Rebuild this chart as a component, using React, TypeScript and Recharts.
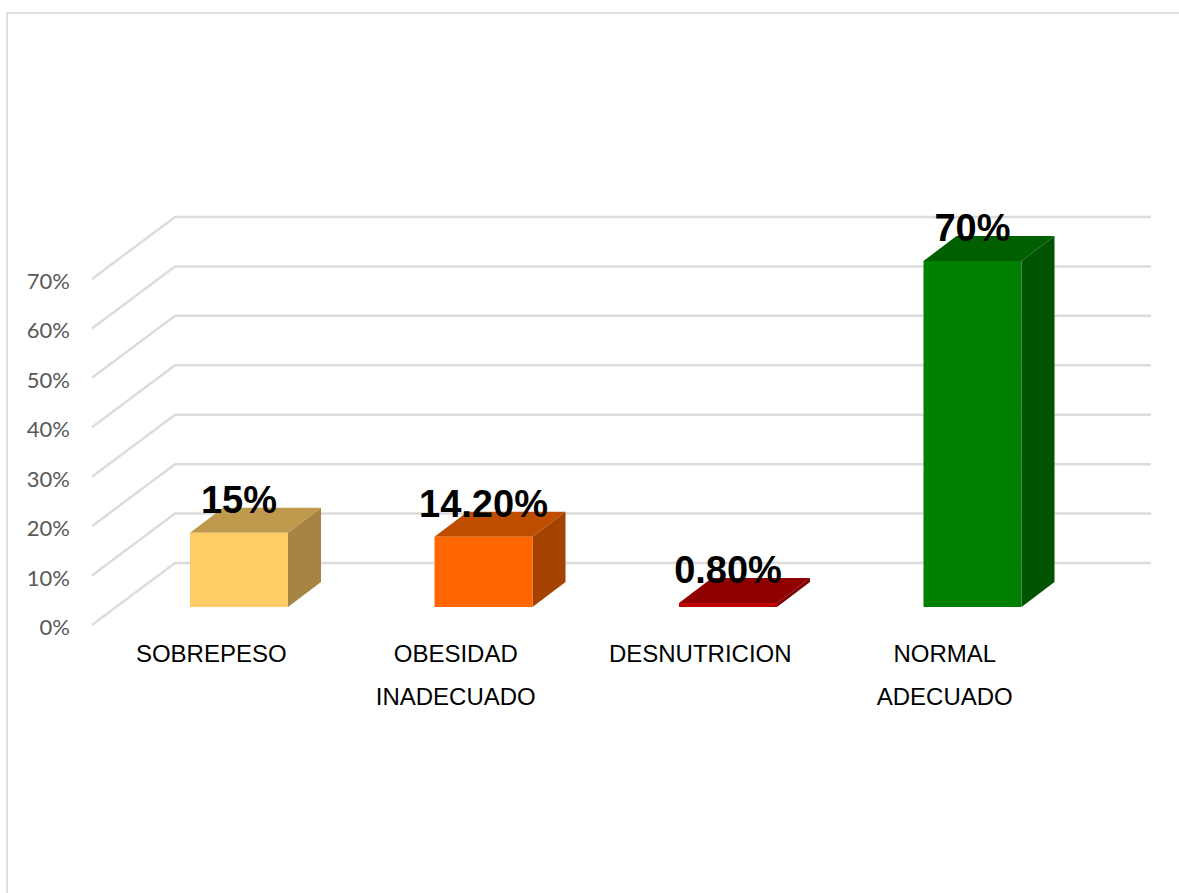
import { BarChart, Bar, XAxis, YAxis, CartesianGrid, LabelList } from 'recharts'

const categories = ['SOBREPESO', 'OBESIDAD', 'DESNUTRICION', 'NORMAL']
const secondLine = ['', 'INADECUADO', '', 'ADECUADO']
const percentValues = [15, 14.2, 0.8, 70]
const valueLabels = ['15%', '14.20%', '0.80%', '70%']
const yTicks = [0, 10, 20, 30, 40, 50, 60, 70]

const FRONT = ['#FFCC66', '#FF6600', '#C00000', '#008000']
const TOP = ['#BF9A4D', '#BF4D00', '#900000', '#006000']
const SIDE = ['#A68544', '#A64200', '#7D0000', '#005300']

const DEPTH_X = 33
const DEPTH_Y = 25

const chartData = categories.map((name, i) => ({ name, value: percentValues[i] }))

function Box3D(props: any) {
  const { x, y, width, height, index } = props
  const r = x + width
  const b = y + height
  return (
    <g>
      <path
        d={`M${x},${y} L${x + DEPTH_X},${y - DEPTH_Y} L${r + DEPTH_X},${y - DEPTH_Y} L${r},${y} Z`}
        fill={TOP[index]}
      />
      <path
        d={`M${r},${y} L${r + DEPTH_X},${y - DEPTH_Y} L${r + DEPTH_X},${b - DEPTH_Y} L${r},${b} Z`}
        fill={SIDE[index]}
      />
      <rect x={x} y={y} width={width} height={height} fill={FRONT[index]} />
    </g>
  )
}

// back wall line plus the diagonal running to the front edge of the floor
function GridLine(props: any) {
  const { x1, x2, y1 } = props
  return (
    <g stroke="#dcdcdc" strokeWidth={2.5} fill="none">
      <path d={`M${x1 - 25},${y1 + 18} L${x1 + 58},${y1 - 44} L${x2 + 56},${y1 - 44}`} />
    </g>
  )
}

function ValueTick(props: any) {
  const { y, payload } = props
  return (
    <text
      x={70}
      y={y + 18 + 10}
      textAnchor="end"
      fontSize={22}
      fontFamily="Lato, 'Open Sans', sans-serif"
      fill="#595959"
    >
      {payload.value}%
    </text>
  )
}

function CategoryTick(props: any) {
  const { x, payload, index } = props
  return (
    <text textAnchor="middle" fontSize={24} fontFamily="'Liberation Sans', Arial, sans-serif" fill="#000">
      <tspan x={x - 28} y={662}>{payload.value}</tspan>
      {secondLine[index] && <tspan x={x - 28} y={705}>{secondLine[index]}</tspan>}
    </text>
  )
}

function ValueLabel(props: any) {
  const { x, y, width, index } = props
  return (
    <text
      x={x + width / 2}
      y={y - 20}
      textAnchor="middle"
      fontSize={38}
      fontWeight="bold"
      fontFamily="'Liberation Sans', Arial, sans-serif"
      fill="#000"
    >
      {valueLabels[index]}
    </text>
  )
}

export default function App() {
  return (
    <div style={{ position: 'absolute', left: 0, top: 0, width: 1179, height: 893, background: '#fff', overflow: 'hidden' }}>
      <div
        style={{
          position: 'absolute',
          left: 6,
          top: 12,
          width: 1179,
          height: 893,
          borderTop: '2px solid #e0e0e0',
          borderLeft: '2px solid #e0e0e0',
        }}
      />
      <BarChart
        width={1179}
        height={893}
        data={chartData}
        margin={{ top: 261, right: 84, bottom: 0, left: 0 }}
        barSize={98}
        style={{ position: 'absolute', left: 0, top: 0 }}
      >
        <CartesianGrid vertical={false} horizontal={(p: any) => <GridLine key={p.key} {...p} />} />
        <XAxis dataKey="name" axisLine={false} tickLine={false} height={286} interval={0} tick={<CategoryTick />} />
        <YAxis
          width={117}
          domain={[0, 70]}
          ticks={yTicks}
          axisLine={false}
          tickLine={false}
          interval={0}
          tick={<ValueTick />}
        />
        <Bar dataKey="value" isAnimationActive={false} shape={<Box3D />}>
          <LabelList dataKey="value" content={<ValueLabel />} />
        </Bar>
      </BarChart>
    </div>
  )
}
